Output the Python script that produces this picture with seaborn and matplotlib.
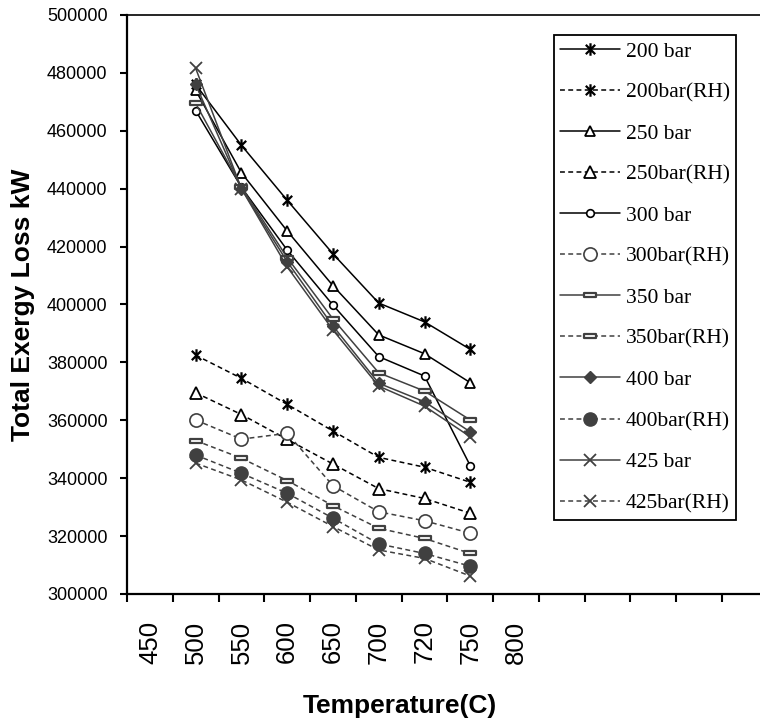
import matplotlib
matplotlib.use("Agg")
import matplotlib.pyplot as plt
from matplotlib.path import Path
import seaborn as sns
import pandas as pd

# ---------------- data ----------------
categories = ["450", "500", "550", "600", "650", "700", "720", "750", "800"]
temps = ["500", "550", "600", "650", "700", "720", "750"]

bar200 = [476000, 455000, 436000, 417500, 400500, 394000, 384500]
bar200_rh = [382500, 374500, 365500, 356300, 347200, 343800, 338600]
bar250 = [474000, 445500, 425400, 406500, 389500, 383000, 373000]
bar250_rh = [369500, 362000, 353400, 344900, 336400, 333000, 327900]
bar300 = [467000, 440500, 418800, 399800, 382000, 375300, 344300]
bar300_rh = [360100, 353500, 355500, 337400, 328400, 325300, 321000]
bar350 = [469500, 440500, 416200, 395000, 376400, 370100, 360100]
bar350_rh = [353000, 346900, 339200, 330500, 322700, 319200, 314000]
bar400 = [476000, 440000, 414800, 392600, 372800, 366400, 356000]
bar400_rh = [348000, 341700, 334800, 326200, 317300, 314000, 309600]
bar425 = [481600, 440000, 413000, 391200, 371800, 364900, 354300]
bar425_rh = [345200, 339400, 331700, 323300, 315200, 312300, 306200]

series_names = ["200 bar", "200bar(RH)", "250 bar", "250bar(RH)", "300 bar",
                "300bar(RH)", "350 bar", "350bar(RH)", "400 bar", "400bar(RH)",
                "425 bar", "425bar(RH)"]
series_values = [bar200, bar200_rh, bar250, bar250_rh, bar300, bar300_rh,
                 bar350, bar350_rh, bar400, bar400_rh, bar425, bar425_rh]

y_ticks = [300000, 320000, 340000, 360000, 380000, 400000, 420000, 440000,
           460000, 480000, 500000]

# ---------------- styles ----------------
star = Path([(0, -1), (0, 1), (-0.75, -0.75), (0.75, 0.75), (-0.75, 0.75), (0.75, -0.75)],
            [Path.MOVETO, Path.LINETO, Path.MOVETO, Path.LINETO, Path.MOVETO, Path.LINETO])
dashbox = Path([(-1, -0.4), (1, -0.4), (1, 0.4), (-1, 0.4), (-1, -0.4)],
               [Path.MOVETO, Path.LINETO, Path.LINETO, Path.LINETO, Path.CLOSEPOLY])

BLACK = "#000000"
GREY = "#404040"
styles = {
    "200 bar":    dict(color=BLACK, ls="-",  marker=star, ms=9, mfc="none", mec=BLACK, mew=1.6),
    "200bar(RH)": dict(color=BLACK, ls="--", marker=star, ms=9, mfc="none", mec=BLACK, mew=1.6),
    "250 bar":    dict(color=BLACK, ls="-",  marker="^", ms=6.5, mfc="white", mec=BLACK, mew=1.3),
    "250bar(RH)": dict(color=BLACK, ls="--", marker="^", ms=9, mfc="white", mec=BLACK, mew=1.3),
    "300 bar":    dict(color=BLACK, ls="-",  marker="o", ms=5.5, mfc="white", mec=BLACK, mew=1.2),
    "300bar(RH)": dict(color=GREY,  ls="--", marker="o", ms=9.5, mfc="white", mec=GREY, mew=1.2),
    "350 bar":    dict(color=GREY,  ls="-",  marker=dashbox, ms=8, mfc="white", mec=GREY, mew=1.6),
    "350bar(RH)": dict(color=GREY,  ls="--", marker=dashbox, ms=8, mfc="white", mec=GREY, mew=1.6),
    "400 bar":    dict(color=GREY,  ls="-",  marker="D", ms=6.5, mfc=GREY, mec=GREY, mew=1.0),
    "400bar(RH)": dict(color=GREY,  ls="--", marker="o", ms=9.5, mfc=GREY, mec=GREY, mew=1.0),
    "425 bar":    dict(color=GREY,  ls="-",  marker="x", ms=8.5, mfc="none", mec=GREY, mew=1.3),
    "425bar(RH)": dict(color=GREY,  ls="--", marker="x", ms=9, mfc="none", mec=GREY, mew=1.3),
}

sns.set_style("ticks")
plt.rcParams["font.family"] = ["Liberation Sans", "DejaVu Sans"]
plt.rcParams["lines.dashed_pattern"] = [3.2, 2.2]
plt.rcParams["text.color"] = "black"
plt.rcParams["axes.labelcolor"] = "black"
plt.rcParams["xtick.color"] = "black"
plt.rcParams["ytick.color"] = "black"

fig = plt.figure(figsize=(7.6, 7.28), dpi=100)
ax = fig.add_axes([127 / 760, (728 - 594) / 728, 1 - 127 / 760, (594 - 15) / 728])

xpos = [categories.index(t) for t in temps]
for name, vals in zip(series_names, series_values):
    df = pd.DataFrame({"x": xpos, "y": vals})
    st = styles[name]
    sns.lineplot(data=df, x="x", y="y", ax=ax, label=name, color=st["color"],
                 linestyle=st["ls"], linewidth=1.1, marker=st["marker"],
                 markersize=st["ms"], markerfacecolor=st["mfc"],
                 markeredgecolor=st["mec"], markeredgewidth=st["mew"],
                 errorbar=None, sort=False)

# axes ranges and ticks
step = 45.77
ax.set_xlim(-0.5, -0.5 + 633 / step)
ax.set_ylim(300000, 500000)
ax.set_yticks(y_ticks)
ax.set_yticklabels([str(v) for v in y_ticks], fontsize=13, color="black")

ax.set_xticks([i - 0.5 for i in range(14)])
ax.set_xticklabels([])
ax.set_xticks(list(range(len(categories))), minor=True)
ax.set_xticklabels(categories, minor=True, rotation=90, fontsize=18.5, color="black")
ax.tick_params(axis="x", which="major", direction="out", length=6, width=1.5, color="black")
ax.tick_params(axis="x", which="minor", length=0, pad=19)
ax.tick_params(axis="y", direction="out", length=5, width=1.5, pad=9, color="black")

for side in ["left", "bottom"]:
    ax.spines[side].set_linewidth(1.6)
ax.spines["top"].set_linewidth(1.2)
ax.spines["right"].set_visible(False)
for s in ax.spines.values():
    s.set_color("black")

ax.set_xlabel("Temperature(C)", fontsize=19, fontweight="bold", color="black")
ax.set_ylabel("Total Exergy Loss kW", fontsize=19, fontweight="bold", color="black")
ax.xaxis.set_label_coords((400 - 127) / 633, -0.172)
ax.yaxis.set_label_coords(-0.145, 0.5)

leg = ax.legend(loc="upper left", bbox_to_anchor=((554 - 127) / 633, (594 - 35) / 579),
                borderaxespad=0, frameon=True, fancybox=False, framealpha=1,
                edgecolor="black", prop={"family": "Liberation Serif", "size": 15.5},
                handlelength=2.75, handletextpad=0.28, labelspacing=0.975, borderpad=0.3)
leg.get_frame().set_linewidth(1.3)
for t in leg.get_texts():
    t.set_color("black")

fig.savefig("out.png", dpi=100)
